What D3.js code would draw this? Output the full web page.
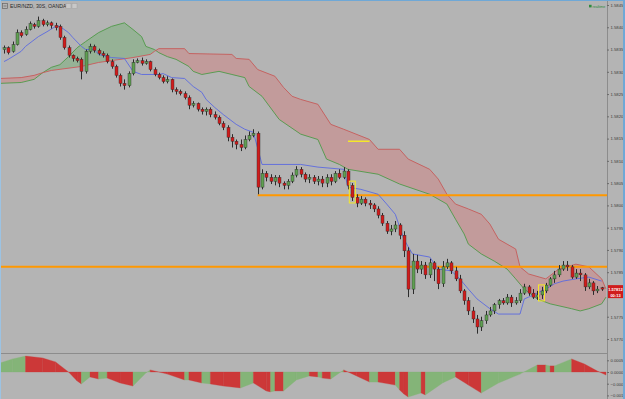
<!DOCTYPE html>
<html><head><meta charset="utf-8">
<script src="https://cdn.jsdelivr.net/npm/d3@7"></script>
<style>html,body{margin:0;padding:0;background:#b4b4b4;overflow:hidden}</style>
</head><body><svg id="c" width="625" height="399"></svg>
<script>
// ---- DATA ----
const title = "EUR/NZD, 30S, OANDA";
const priceTicks = [1.58450,1.58400,1.58350,1.58300,1.58250,1.58200,1.58150,1.58100,1.58050,1.58000,1.57950,1.57900,1.57850,1.57750,1.57700];
const oscTicks = [0.0005,0.0000,-0.0005,-0.0010];
const lastPrice = 1.57812;
const countdown = "00:13";

const open = [
1.58350,1.58354,1.58346,1.58361,1.58388,1.58384,1.58395,1.58406,1.58402,1.58415,
1.58406,1.58410,1.58404,1.58402,1.58377,1.58354,1.58337,1.58330,1.58328,1.58301,
1.58346,1.58357,1.58348,1.58341,1.58337,1.58323,1.58312,1.58292,1.58274,1.58269,
1.58296,1.58321,1.58325,1.58319,1.58323,1.58305,1.58294,1.58287,1.58278,1.58283,
1.58260,1.58256,1.58251,1.58242,1.58225,1.58229,1.58216,1.58211,1.58216,1.58204,
1.58198,1.58184,1.58175,1.58153,1.58144,1.58137,1.58130,1.58148,1.58157,1.58162,
1.58041,1.58072,1.58063,1.58054,1.58063,1.58050,1.58045,1.58054,1.58068,1.58081,
1.58070,1.58059,1.58063,1.58054,1.58059,1.58050,1.58063,1.58054,1.58072,1.58063,
1.58077,1.58045,1.58018,1.58005,1.58014,1.58005,1.58001,1.57992,1.57978,1.57960,
1.57942,1.57947,1.57956,1.57933,1.57898,1.57812,1.57875,1.57857,1.57866,1.57844,
1.57871,1.57857,1.57824,1.57862,1.57871,1.57853,1.57835,1.57808,1.57786,1.57763,
1.57745,1.57727,1.57741,1.57754,1.57763,1.57777,1.57786,1.57781,1.57794,1.57781,
1.57786,1.57803,1.57817,1.57803,1.57794,1.57799,1.57808,1.57821,1.57835,1.57844,
1.57857,1.57866,1.57862,1.57839,1.57848,1.57844,1.57817,1.57826,1.57808,1.57815];
const high = [
1.58359,1.58357,1.58368,1.58395,1.58393,1.58402,1.58413,1.58410,1.58424,1.58419,
1.58415,1.58413,1.58410,1.58406,1.58381,1.58359,1.58339,1.58334,1.58332,1.58350,
1.58363,1.58361,1.58352,1.58346,1.58341,1.58328,1.58316,1.58296,1.58283,1.58301,
1.58328,1.58330,1.58332,1.58328,1.58325,1.58310,1.58298,1.58292,1.58290,1.58285,
1.58265,1.58260,1.58256,1.58247,1.58234,1.58231,1.58220,1.58220,1.58220,1.58211,
1.58202,1.58189,1.58180,1.58160,1.58148,1.58148,1.58157,1.58166,1.58171,1.58166,
1.58081,1.58077,1.58070,1.58068,1.58068,1.58054,1.58059,1.58074,1.58088,1.58086,
1.58074,1.58070,1.58068,1.58066,1.58066,1.58070,1.58070,1.58077,1.58081,1.58086,
1.58081,1.58050,1.58025,1.58021,1.58018,1.58012,1.58005,1.57998,1.57983,1.57965,
1.57956,1.57965,1.57960,1.57942,1.57906,1.57891,1.57889,1.57875,1.57873,1.57880,
1.57875,1.57862,1.57875,1.57880,1.57875,1.57862,1.57844,1.57812,1.57794,1.57772,
1.57754,1.57750,1.57763,1.57772,1.57781,1.57790,1.57792,1.57801,1.57799,1.57794,
1.57812,1.57824,1.57821,1.57812,1.57808,1.57817,1.57826,1.57839,1.57853,1.57866,
1.57875,1.57875,1.57866,1.57857,1.57857,1.57848,1.57835,1.57830,1.57819,1.57817];
const low = [
1.58341,1.58339,1.58343,1.58359,1.58377,1.58381,1.58393,1.58397,1.58399,1.58402,
1.58402,1.58397,1.58393,1.58372,1.58350,1.58332,1.58323,1.58321,1.58283,1.58296,
1.58341,1.58343,1.58337,1.58332,1.58319,1.58307,1.58287,1.58267,1.58260,1.58265,
1.58292,1.58319,1.58314,1.58316,1.58301,1.58290,1.58283,1.58274,1.58274,1.58254,
1.58249,1.58247,1.58238,1.58216,1.58220,1.58211,1.58204,1.58202,1.58198,1.58193,
1.58180,1.58169,1.58144,1.58130,1.58126,1.58122,1.58126,1.58144,1.58153,1.58025,
1.58036,1.58054,1.58048,1.58045,1.58041,1.58036,1.58036,1.58050,1.58063,1.58063,
1.58052,1.58050,1.58048,1.58045,1.58041,1.58041,1.58045,1.58050,1.58059,1.58059,
1.58036,1.58010,1.57996,1.58001,1.57998,1.57992,1.57985,1.57971,1.57954,1.57936,
1.57933,1.57940,1.57924,1.57884,1.57794,1.57801,1.57848,1.57846,1.57835,1.57837,
1.57830,1.57812,1.57817,1.57857,1.57846,1.57830,1.57803,1.57777,1.57754,1.57736,
1.57712,1.57718,1.57734,1.57750,1.57756,1.57768,1.57777,1.57777,1.57772,1.57777,
1.57781,1.57799,1.57797,1.57790,1.57788,1.57790,1.57803,1.57817,1.57826,1.57839,
1.57853,1.57853,1.57835,1.57835,1.57830,1.57808,1.57812,1.57799,1.57803,1.57808];
const close = [
1.58354,1.58343,1.58361,1.58388,1.58381,1.58395,1.58408,1.58402,1.58415,1.58406,
1.58410,1.58404,1.58399,1.58377,1.58354,1.58337,1.58330,1.58325,1.58301,1.58346,
1.58357,1.58348,1.58341,1.58337,1.58323,1.58312,1.58292,1.58274,1.58269,1.58296,
1.58321,1.58325,1.58319,1.58323,1.58305,1.58294,1.58287,1.58278,1.58283,1.58260,
1.58256,1.58251,1.58242,1.58225,1.58229,1.58216,1.58211,1.58216,1.58204,1.58198,
1.58184,1.58175,1.58153,1.58144,1.58137,1.58130,1.58148,1.58157,1.58162,1.58041,
1.58072,1.58063,1.58054,1.58063,1.58050,1.58045,1.58054,1.58068,1.58081,1.58070,
1.58059,1.58063,1.58054,1.58059,1.58050,1.58063,1.58054,1.58072,1.58063,1.58077,
1.58045,1.58018,1.58005,1.58014,1.58005,1.58001,1.57992,1.57978,1.57960,1.57942,
1.57947,1.57956,1.57933,1.57898,1.57812,1.57875,1.57857,1.57866,1.57844,1.57871,
1.57857,1.57824,1.57862,1.57871,1.57853,1.57835,1.57808,1.57786,1.57763,1.57745,
1.57727,1.57741,1.57754,1.57763,1.57777,1.57786,1.57781,1.57794,1.57781,1.57786,
1.57803,1.57817,1.57803,1.57794,1.57799,1.57808,1.57821,1.57835,1.57844,1.57857,
1.57866,1.57862,1.57839,1.57848,1.57844,1.57817,1.57826,1.57808,1.57812,1.57812];

// baseline (blue) line
const blueIdx = [0,1,4,5,8,10,12,13,15,16,18,19,21,22,25,28,30,32,36,37,39,42,44,46,47,49,51,54,56,58,60,69,73,79,80,83,87,89,91,93,95,99,101,104,106,108,110,113,115,120,121,122,126,128,130,133,136,139];
const blueVal = [1.58323,1.58328,1.58346,1.58357,1.58379,1.58390,1.58402,1.58402,1.58388,1.58377,1.58357,1.58350,1.58350,1.58339,1.58332,1.58330,1.58301,1.58294,1.58294,1.58296,1.58287,1.58285,1.58267,1.58254,1.58238,1.58220,1.58204,1.58182,1.58171,1.58164,1.58092,1.58092,1.58086,1.58081,1.58041,1.58036,1.58025,1.58003,1.57980,1.57924,1.57891,1.57884,1.57857,1.57853,1.57835,1.57812,1.57790,1.57768,1.57756,1.57756,1.57790,1.57794,1.57812,1.57824,1.57830,1.57835,1.57839,1.57830];

// cloud: leading span A and B
const aIdx = [-1,4,7,9,11,13,15,17,19,22,25,28,30,32,33,35,36,38,40,43,44,46,50,53,56,57,60,64,69,73,75,78,80,87,92,99,103,105,107,108,111,114,117,119,121,124,127,132,134,136,139,140];
const aVal = [1.58274,1.58276,1.58283,1.58298,1.58310,1.58316,1.58334,1.58354,1.58368,1.58388,1.58402,1.58410,1.58395,1.58379,1.58357,1.58350,1.58343,1.58334,1.58328,1.58312,1.58301,1.58294,1.58301,1.58294,1.58287,1.58267,1.58245,1.58193,1.58160,1.58148,1.58104,1.58092,1.58081,1.58070,1.58048,1.58025,1.58003,1.57969,1.57936,1.57913,1.57891,1.57875,1.57857,1.57835,1.57812,1.57790,1.57779,1.57768,1.57763,1.57768,1.57779,1.57794];
const bIdx = [-1,4,7,9,11,18,22,30,34,35,36,42,43,53,54,57,59,63,65,67,69,73,76,79,85,87,92,94,99,101,103,105,108,111,113,115,119,120,122,126,129,133,136,139,140];
const bVal = [1.58285,1.58287,1.58292,1.58298,1.58303,1.58312,1.58321,1.58332,1.58339,1.58346,1.58352,1.58352,1.58341,1.58339,1.58330,1.58328,1.58305,1.58290,1.58265,1.58245,1.58238,1.58227,1.58182,1.58171,1.58148,1.58126,1.58126,1.58104,1.58081,1.58059,1.58025,1.58003,1.57992,1.57980,1.57958,1.57924,1.57902,1.57862,1.57846,1.57835,1.57857,1.57868,1.57862,1.57835,1.57812];

// drawings
const hLinePrices = [1.58023, 1.57862];
const hLineStart = [59, -1];
const shortLinePrice = 1.58144, shortLineFrom = 80, shortLineTo = 85;
const markedBars = [81, 125];

// oscillator panel
const oscIdx = [-1,2,5,9,12,15,17,18,20,22,24,27,30,33,34,38,42,43,46,48,51,55,58,61,62,63,65,68,71,73,74,76,79,82,85,87,91,92,93,94,97,98,102,105,108,111,115,120,124,126,127,128,132,135,138,140];
const oscVal = [0.00038,0.00056,0.00068,0.00060,0.00043,0,-0.00038,-0.00051,-0.00021,-0.00030,-0.00026,-0.00047,-0.00060,-0.00004,0.00009,-0.00009,-0.00034,-0.00034,-0.00047,-0.00051,-0.00060,-0.00068,-0.00047,-0.00081,-0.00085,-0.00081,-0.00081,-0.00034,-0.00017,-0.00021,-0.00026,-0.00030,0.00009,-0.00017,-0.00043,-0.00043,-0.00056,-0.00077,-0.00094,-0.00107,-0.00090,-0.00098,-0.00047,-0.00021,-0.00056,-0.00090,-0.00047,-0.00009,0.00030,0.00030,0.00026,0.00026,0.00056,0.00034,0.00004,-0.00013];
const oscDir = ["G","G","R","R","R","R","R","G","R","G","R","R","G","G","R","R","G","R","G","R","R","G","R","R","G","R","G","G","R","G","R","G","R","R","G","R","G","R","R","G","R","G","G","R","R","G","G","G","R","G","R","G","R","R","R","R"];

// ---- DRAW ----
const svg = d3.select("#c");
const BG = "#b4b4b4";
svg.append("rect").attr("width",625).attr("height",399).attr("fill",BG);

const x = d3.scaleLinear().domain([0,139]).range([4,601.7]);
const y = d3.scaleLinear().domain([1.577,1.5845]).range([339,5]);
const ys = d3.scaleLinear().domain([-0.001,0.0005]).range([395.4,360.3]);

const defs = svg.append("defs");
defs.append("clipPath").attr("id","mainClip").append("rect").attr("x",0).attr("y",0).attr("width",607).attr("height",353);
defs.append("clipPath").attr("id","subClip").append("rect").attr("x",0).attr("y",354).attr("width",607).attr("height",45);

const A = aIdx.map((d,k)=>({i:d,v:aVal[k]}));
const B = bIdx.map((d,k)=>({i:d,v:bVal[k]}));
const toPx = p => [x(p.i), y(p.v)];
const bPx = B.map(toPx);
const aPx = A.map(toPx);
const xMin = x(-1), xMax = x(140);
defs.append("clipPath").attr("id","aboveB").append("path")
  .attr("d", d3.line()(bPx.concat([[xMax,-50],[xMin,-50]])) + "Z");
defs.append("clipPath").attr("id","belowB").append("path")
  .attr("d", d3.line()(bPx.concat([[xMax,500],[xMin,500]])) + "Z");

const main = svg.append("g").attr("clip-path","url(#mainClip)");
const cloudPoly = d3.line()(aPx.concat(bPx.slice().reverse())) + "Z";
main.append("g").attr("clip-path","url(#aboveB)").append("path").attr("d",cloudPoly)
  .attr("fill","rgba(60,170,60,0.25)");
main.append("g").attr("clip-path","url(#belowB)").append("path").attr("d",cloudPoly)
  .attr("fill","rgba(235,80,80,0.25)");
const line = d3.line().x(d=>x(d.i)).y(d=>y(d.v));
main.append("path").attr("d",line(A)).attr("fill","none").attr("stroke","#4f9a48").attr("stroke-width",0.9);
main.append("path").attr("d",line(B)).attr("fill","none").attr("stroke","#c85a5a").attr("stroke-width",0.9);

// horizontal drawings
hLinePrices.forEach((p,k)=>{
  main.append("line").attr("x1",x(hLineStart[k])).attr("x2",607)
    .attr("y1",y(p)).attr("y2",y(p)).attr("stroke","#ff9800").attr("stroke-width",2);
});
main.append("line").attr("x1",x(shortLineFrom)).attr("x2",x(shortLineTo))
  .attr("y1",y(shortLinePrice)).attr("y2",y(shortLinePrice)).attr("stroke","#f5e829").attr("stroke-width",1.5);

// blue line
const blue = blueIdx.map((d,k)=>({i:d,v:blueVal[k]}));
main.append("path").attr("d",line(blue)).attr("fill","none").attr("stroke","#5b6ae0").attr("stroke-width",0.9);

// candles
const bars = d3.range(open.length).map(i=>({i,o:open[i],h:high[i],l:low[i],c:close[i]}));
const cg = main.append("g");
cg.selectAll("line.w").data(bars).join("line")
  .attr("x1",d=>Math.round(x(d.i))+0.5).attr("x2",d=>Math.round(x(d.i))+0.5)
  .attr("y1",d=>y(d.h)).attr("y2",d=>y(d.l)).attr("stroke","#2b2b2b").attr("stroke-width",1);
cg.selectAll("rect.b").data(bars).join("rect")
  .attr("x",d=>Math.round(x(d.i))-1).attr("width",3)
  .attr("y",d=>y(Math.max(d.o,d.c)))
  .attr("height",d=>Math.max(1,Math.abs(y(d.o)-y(d.c))))
  .attr("fill",d=>d.c>=d.o?"#5f9f52":"#d01c1c")
  .attr("stroke","#2b2b2b").attr("stroke-width",0.4);

// marked bars (yellow frames)
markedBars.forEach(mi=>{
  const mb = bars[mi];
  main.append("rect").attr("x",x(mi)-3).attr("width",6)
    .attr("y",y(mb.h)-2).attr("height",y(mb.l)-y(mb.h)+4)
    .attr("fill","none").attr("stroke","#f5e829").attr("stroke-width",1);
});

// separator and axis line
svg.append("line").attr("x1",0).attr("x2",607).attr("y1",353.5).attr("y2",353.5).attr("stroke","#8c8c8c").attr("stroke-width",1);
svg.append("line").attr("x1",607.5).attr("x2",607.5).attr("y1",0).attr("y2",399).attr("stroke","#8c8c8c").attr("stroke-width",1);

// oscillator
const sub = svg.append("g").attr("clip-path","url(#subClip)");
for (let k=0;k<oscIdx.length-1;k++){
  const x0=x(oscIdx[k]), x1=x(oscIdx[k+1]);
  const pts=[[x0,ys(0)],[x0,ys(oscVal[k])],[x1,ys(oscVal[k+1])],[x1,ys(0)]];
  sub.append("path").attr("d",d3.line()(pts)+"Z")
    .attr("fill",oscDir[k]==="G"?"#84b478":"#cc3838")
    .attr("stroke",oscDir[k]==="G"?"#84b478":"#cc3838").attr("stroke-width",0.3);
}

// axes
const fontF = "'Liberation Sans', Arial, sans-serif";
const ax = svg.append("g").attr("transform","translate(607,0)")
  .call(d3.axisRight(y).tickValues(priceTicks).tickFormat(d3.format(".5f")).tickSize(2).tickPadding(1.5));
const axs = svg.append("g").attr("transform","translate(607,0)")
  .call(d3.axisRight(ys).tickValues(oscTicks).tickFormat(d3.format(".4f")).tickSize(2).tickPadding(1.5));
[ax,axs].forEach(g=>{
  g.select(".domain").remove();
  g.selectAll("line").attr("stroke","#6a6a6a");
  g.selectAll("text").attr("fill","#3a3a3a").attr("font-size",4.2).attr("font-family",fontF);
});

// last price label
const lp = y(lastPrice);
svg.append("rect").attr("x",608).attr("y",lp-4).attr("width",15).attr("height",13).attr("fill","#d01c1c");
svg.append("text").attr("x",615.5).attr("y",lp+1.5).attr("text-anchor","middle").attr("fill","#fff")
  .attr("font-size",4).attr("font-weight","bold").attr("font-family",fontF).text(lastPrice.toFixed(5));
svg.append("text").attr("x",615.5).attr("y",lp+7.5).attr("text-anchor","middle").attr("fill","#fff")
  .attr("font-size",4).attr("font-weight","bold").attr("font-family",fontF).text(countdown);

// title
svg.append("rect").attr("x",2.5).attr("y",3.5).attr("width",5).attr("height",5).attr("fill","none").attr("stroke","#666").attr("stroke-width",0.7);
svg.append("line").attr("x1",3.5).attr("x2",6.5).attr("y1",6).attr("y2",6).attr("stroke","#666").attr("stroke-width",0.7);
svg.append("text").attr("x",10).attr("y",8.3).attr("fill","#2a2a2a").attr("font-size",5.2).attr("font-family",fontF).text(title);
[66,72].forEach(px=>svg.append("rect").attr("x",px).attr("y",3.5).attr("width",5).attr("height",5).attr("fill","#c8c8c8").attr("stroke","#a0a0a0").attr("stroke-width",0.5));
svg.append("rect").attr("x",589).attr("y",4.8).attr("width",2.6).attr("height",2.6).attr("fill","#2e8b3e");
svg.append("text").attr("x",592.5).attr("y",7.6).attr("fill","#2e8b3e").attr("font-size",3.6).attr("font-family",fontF).text("realtime");

// window frame
svg.append("line").attr("x1",0).attr("x2",625).attr("y1",0.5).attr("y2",0.5).attr("stroke","#6fa8d6").attr("stroke-width",1);
svg.append("line").attr("x1",624).attr("x2",624).attr("y1",0).attr("y2",399).attr("stroke","#6fa8d6").attr("stroke-width",2);
svg.append("line").attr("x1",0.5).attr("x2",0.5).attr("y1",0).attr("y2",399).attr("stroke","#9cc3e3").attr("stroke-width",1);
</script></body></html>
